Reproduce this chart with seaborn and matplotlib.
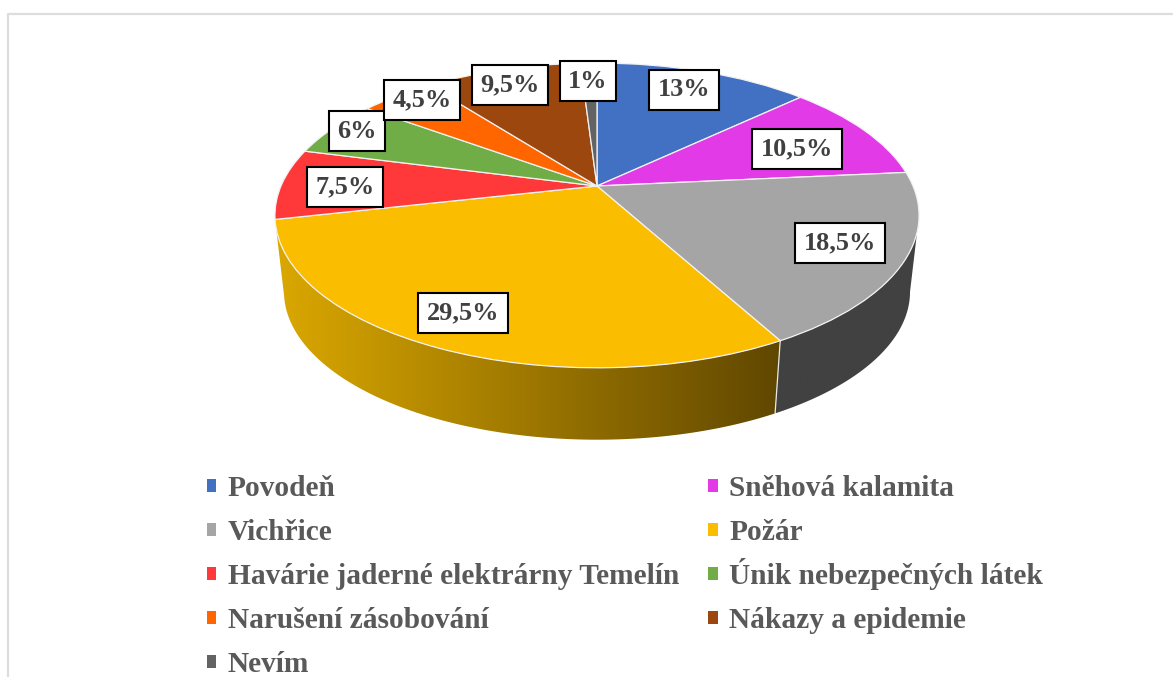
import numpy as np
import pandas as pd
import seaborn as sns
import matplotlib
matplotlib.use("Agg")
import matplotlib.pyplot as plt
from matplotlib.colors import LinearSegmentedColormap
from matplotlib.patches import Patch, Polygon
from matplotlib.transforms import Bbox, Transform

CATEGORIES = ["Povodeň", "Sněhová kalamita", "Vichřice", "Požár",
              "Havárie jaderné elektrárny Temelín", "Únik nebezpečných látek",
              "Narušení zásobování", "Nákazy a epidemie", "Nevím"]
VALUES = [13, 10.5, 18.5, 29.5, 7.5, 6, 4.5, 9.5, 1]
LABELS = ["13%", "10,5%", "18,5%", "29,5%", "7,5%", "6%", "4,5%", "9,5%", "1%"]
COLORS = ["#4270C2", "#E33AE8", "#A5A5A5", "#FBBD00", "#FF383A",
          "#70AD47", "#FF6600", "#9C470D", "#636363"]

# layout constants (pixel space of the 1173x677 canvas)
LABEL_CENTRES = [(684, 90), (797, 149), (840, 243), (463, 313), (345, 187),
                 (357, 131), (422, 100), (510, 85), (588, 81)]
CX, CY, A, B, P = 597, 186, 146.7, 316, 0.193
SHRINK, CY_BOTTOM = 0.972, 263
# silhouette of the tilted disc, as a share of the full turn from 12 o'clock
TANGENT_RIGHT = np.degrees(np.arccos(-P)) / 3.6


def project(u, v, cy=CY, scale=1.0):
    k = 1 + P * np.asarray(v)
    return CX + scale * B * np.asarray(u) / k, cy - scale * A * np.asarray(v) / k


class TiltTransform(Transform):
    """Perspective tilt of the unit pie circle into canvas pixels."""
    input_dims = output_dims = 2
    is_affine = False
    has_inverse = False

    def transform_non_affine(self, values):
        values = np.asarray(values, dtype=float)
        x, y = project(values[:, 0], values[:, 1])
        return np.column_stack([x, y])


def rim(frac_start, frac_end, cy, scale):
    t = np.radians(np.linspace(frac_start, frac_end, 200) * 3.6)
    return np.column_stack(project(np.sin(t), np.cos(t), cy, scale))


df = pd.DataFrame({"category": CATEGORIES, "value": VALUES, "label": LABELS})
df["start"] = df["value"].cumsum().shift(fill_value=0)
df["end"] = df["value"].cumsum()

sns.set_theme(style="white")
plt.rcParams["font.family"] = ["Liberation Serif", "DejaVu Serif"]
palette = sns.color_palette(COLORS)

fig = plt.figure(figsize=(11.73, 6.77), dpi=100, facecolor="white")
ax = fig.add_axes([0, 0, 1, 1])

wedges, _ = ax.pie(df["value"], startangle=90, counterclock=False, colors=palette,
                   wedgeprops=dict(edgecolor="#F2F2F2", linewidth=0.9, zorder=5))
tilt = TiltTransform() + ax.transData
for w in wedges:
    w.set_transform(tilt)

ax.set_aspect("auto")
ax.set_axis_off()

# side walls of the disc: only the slices facing the viewer
walls = {
    "Vichřice": ("#414141", "#414141"),
    "Požár": ("#DBA800", "#604700"),
}
for name, (c0, c1) in walls.items():
    row = df[df["category"] == name].iloc[0]
    start = max(row["start"], TANGENT_RIGHT)
    top = rim(start, row["end"], CY, 1.0)
    bottom = rim(start, row["end"], CY_BOTTOM, SHRINK)
    outline = np.vstack([top, bottom[::-1]])
    poly = Polygon(outline, closed=True, facecolor="none",
                   edgecolor="none", transform=ax.transData)
    ax.add_patch(poly)
    cmap = LinearSegmentedColormap.from_list(name, [c0, c1])
    im = ax.imshow(np.linspace(0, 1, 256)[None, :], cmap=cmap, aspect="auto",
                   extent=(outline[:, 0].min(), outline[:, 0].max(),
                           outline[:, 1].max(), outline[:, 1].min()), zorder=2)
    im.set_clip_path(poly)

# seam between the two walls
seam = df[df["category"] == "Vichřice"].iloc[0]["end"]
p_top, p_bottom = rim(seam, seam, CY, 1.0)[0], rim(seam, seam, CY_BOTTOM, SHRINK)[0]
ax.plot([p_top[0], p_bottom[0]], [p_top[1], p_bottom[1]], color="#E8E8E8", lw=0.9, zorder=3)

# chart frame (top and left edges are visible)
ax.plot([8, 8, 1173], [677, 14, 14], color="#DDDDDD", lw=1.6, zorder=1, clip_on=False)

for (x, y), text in zip(LABEL_CENTRES, df["label"]):
    ax.text(x, y, text, ha="center", va="center", color="#404040", fontsize=18.9,
            fontweight="bold", zorder=8,
            bbox=dict(boxstyle="square,pad=0.32", facecolor="white",
                      edgecolor="black", linewidth=1.5))

# matplotlib fills legend columns first; the reference reads row by row
handles = [Patch(facecolor=c, edgecolor="none", label=n) for c, n in zip(COLORS, CATEGORIES)]
order = list(range(0, len(handles), 2)) + list(range(1, len(handles), 2))
leg = ax.legend(handles=[handles[i] for i in order], ncol=2, loc="upper left",
                bbox_to_anchor=(207, 476), bbox_transform=ax.transData,
                frameon=False, prop=dict(family="Liberation Serif", weight="bold", size=21.2),
                labelcolor="#595959", handlelength=0.32, handleheight=0.32,
                handletextpad=0.38, columnspacing=1.0, labelspacing=0.545, borderpad=0,
                borderaxespad=0)


# accents change the measured height of a legend row; give every row the same one
def fixed_height(area, below=8.0, above=20.0):
    measure = area.get_bbox

    def get_bbox(renderer):
        box = measure(renderer)
        return Bbox.from_extents(box.x0, -below, box.x1, above)

    area.get_bbox = get_bbox


for column in leg._legend_handle_box.get_children():
    for entry in column.get_children():
        fixed_height(entry.get_children()[1])

ax.set_xlim(0, 1173)
ax.set_ylim(677, 0)
fig.savefig("out.png", dpi=100, facecolor="white")
